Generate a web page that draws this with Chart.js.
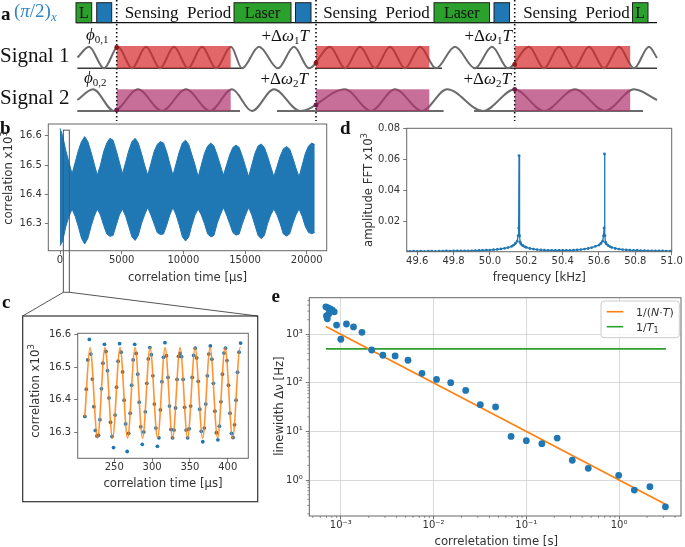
<!DOCTYPE html>
<html>
<head>
<meta charset="utf-8">
<script src="https://cdn.jsdelivr.net/npm/chart.js@4.4.1/dist/chart.umd.min.js"></script>
<style>
  html, body { margin: 0; padding: 0; background: #fff; }
  #page { position: relative; width: 685px; height: 547px; overflow: hidden; background: #fff; }
  #page canvas { position: absolute; left: 0; top: 0; }
</style>
</head>
<body>
<div id="page">
  <canvas id="chartA" width="685" height="547"></canvas>
  <canvas id="chartB" width="685" height="547"></canvas>
  <canvas id="chartC" width="685" height="547"></canvas>
  <canvas id="chartD" width="685" height="547"></canvas>
  <canvas id="chartE" width="685" height="547"></canvas>
</div>
<script>
// ---------- panel b: envelope of the raw correlation trace (x10^3) ----------
const bTime = [0, 211, 466, 722, 977, 1233, 1489, 1744, 2000, 2256, 2511, 2767, 3022, 3278, 3533, 3789,
  4045, 4300, 4556, 4811, 5067, 5323, 5578, 5834, 6089, 6345, 6601, 6856, 7112, 7367, 7623, 7879,
  8134, 8390, 8645, 8901, 9157, 9412, 9668, 9923, 10179, 10435, 10690, 10946, 11201, 11457, 11713, 11968,
  12224, 12479, 12735, 12991, 13246, 13502, 13757, 14013, 14269, 14524, 14780, 15035, 15291, 15547, 15802, 16058,
  16313, 16569, 16825, 17080, 17336, 17591, 17847, 18103, 18358, 18614, 18869, 19125, 19381, 19636, 19892, 20147,
  20403, 20650];
const bUpper = [16.625, 16.60, 16.55, 16.51, 16.47, 16.51, 16.55, 16.58,
  16.597, 16.58, 16.545, 16.505, 16.465, 16.50, 16.545, 16.575,
  16.591, 16.585, 16.55, 16.51, 16.47, 16.51, 16.55, 16.58,
  16.591, 16.575, 16.54, 16.50, 16.465, 16.505, 16.545, 16.57,
  16.58, 16.575, 16.545, 16.505, 16.465, 16.505, 16.545, 16.575,
  16.585, 16.57, 16.535, 16.50, 16.46, 16.50, 16.54, 16.565,
  16.575, 16.565, 16.535, 16.50, 16.465, 16.50, 16.535, 16.56,
  16.568, 16.56, 16.53, 16.495, 16.46, 16.50, 16.54, 16.565,
  16.572, 16.56, 16.53, 16.495, 16.46, 16.495, 16.53, 16.555,
  16.563, 16.555, 16.525, 16.49, 16.46, 16.50, 16.54, 16.565,
  16.575, 16.57];
const bLower = [16.225, 16.24, 16.29, 16.325, 16.35, 16.325, 16.29, 16.25,
  16.231, 16.25, 16.29, 16.325, 16.35, 16.33, 16.295, 16.265,
  16.257, 16.26, 16.295, 16.33, 16.35, 16.325, 16.29, 16.255,
  16.243, 16.26, 16.30, 16.33, 16.355, 16.33, 16.30, 16.27,
  16.263, 16.265, 16.295, 16.33, 16.355, 16.33, 16.295, 16.255,
  16.241, 16.255, 16.295, 16.33, 16.35, 16.33, 16.30, 16.265,
  16.255, 16.26, 16.30, 16.33, 16.355, 16.33, 16.30, 16.27,
  16.261, 16.265, 16.30, 16.33, 16.355, 16.33, 16.295, 16.26,
  16.249, 16.26, 16.30, 16.33, 16.35, 16.33, 16.30, 16.265,
  16.258, 16.265, 16.30, 16.33, 16.35, 16.325, 16.29, 16.27,
  16.266, 16.27];
const bTicksX = [0, 5000, 10000, 15000, 20000];
const bTicksY = [16.3, 16.4, 16.5, 16.6];
const bZoomFrom = 270, bZoomTo = 755;   // inset marker, in us

// ---------- panel c: zoom on the first samples ----------
const cTime = [211, 213, 215, 217, 219, 221, 223, 225, 227, 229, 231, 233, 235, 237, 239, 241, 243, 245, 247, 249,
  251, 253, 255, 257, 259, 261, 263, 265, 267, 269, 271, 273, 275, 277, 279, 281, 283, 285, 287, 289,
  291, 293, 295, 297, 299, 301, 303, 305, 307, 309, 311, 313, 315, 317, 319, 321, 323, 325, 327, 329,
  331, 333, 335, 337, 339, 341, 343, 345, 347, 349, 351, 353, 355, 357, 359, 361, 363, 365, 367, 369,
  371, 373, 375, 377, 379, 381, 383, 385, 387, 389, 391, 393, 395, 397, 399, 401, 403, 405, 407, 409,
  411, 413, 415, 417];
const cValue = [16.348, 16.432, 16.522, 16.585, 16.540, 16.463, 16.378, 16.305, 16.288, 16.290,
  16.338, 16.433, 16.512, 16.570, 16.548, 16.489, 16.405, 16.330, 16.286, 16.252,
  16.352, 16.438, 16.518, 16.572, 16.546, 16.485, 16.398, 16.325, 16.240, 16.296,
  16.358, 16.444, 16.522, 16.570, 16.542, 16.478, 16.392, 16.316, 16.262, 16.300,
  16.362, 16.450, 16.525, 16.560, 16.538, 16.473, 16.386, 16.312, 16.256, 16.282,
  16.368, 16.455, 16.530, 16.575, 16.535, 16.468, 16.380, 16.308, 16.282, 16.306,
  16.374, 16.462, 16.533, 16.542, 16.532, 16.462, 16.376, 16.306, 16.282, 16.310,
  16.380, 16.468, 16.536, 16.558, 16.528, 16.456, 16.370, 16.302, 16.270, 16.312,
  16.386, 16.473, 16.540, 16.565, 16.524, 16.450, 16.364, 16.298, 16.276, 16.318,
  16.393, 16.478, 16.543, 16.558, 16.520, 16.444, 16.358, 16.296, 16.283, 16.322,
  16.398, 16.484, 16.546, 16.574];
// fitted curve, given by its turning points
const fitTime = [211, 217.9, 227.83, 237.75, 247.68, 257.6, 267.53, 277.45, 287.38, 297.3, 307.23, 317.15,
  327.08, 337.0, 346.93, 356.85, 366.78, 376.7, 386.63, 396.55, 406.48, 416.4, 417];
const fitValue = [16.347, 16.56, 16.281, 16.56, 16.281, 16.56, 16.281, 16.56, 16.281, 16.56, 16.281, 16.56,
  16.281, 16.56, 16.281, 16.56, 16.281, 16.56, 16.281, 16.56, 16.281, 16.56, 16.559];
const cTicksX = [250, 300, 350, 400];
const cTicksY = [16.3, 16.4, 16.5, 16.6];

// ---------- panel d: FFT amplitude (x10^3) ----------
const fftFreq = [49.54, 49.56, 49.58, 49.60, 49.62, 49.64, 49.66, 49.68, 49.70, 49.72, 49.74, 49.76, 49.78, 49.80,
  49.82, 49.84, 49.86, 49.88, 49.90, 49.92, 49.94, 49.96, 49.98, 50.00, 50.02, 50.04, 50.06, 50.08, 50.10,
  50.12, 50.13, 50.14, 50.15, 50.155, 50.158, 50.16, 50.163, 50.166, 50.17, 50.18, 50.19, 50.20,
  50.22, 50.24, 50.26, 50.28, 50.30, 50.32, 50.34, 50.36, 50.38, 50.40, 50.42, 50.44, 50.46, 50.48,
  50.50, 50.52, 50.54, 50.56, 50.58, 50.60, 50.61, 50.62, 50.625, 50.628, 50.63, 50.633, 50.636,
  50.64, 50.65, 50.66, 50.67, 50.69, 50.71, 50.73, 50.75, 50.77, 50.79, 50.81, 50.83, 50.85, 50.87,
  50.89, 50.91, 50.93, 50.95, 50.97, 50.99, 51.00];
const fftAmp = [0.0011, 0.0010, 0.0011, 0.0010, 0.0011, 0.0010, 0.0011, 0.0011, 0.0010, 0.0011, 0.0011, 0.0012, 0.0011, 0.0012,
  0.0012, 0.0012, 0.0013, 0.0013, 0.0013, 0.0014, 0.0015, 0.0016, 0.0017, 0.0018, 0.0020, 0.0022, 0.0025, 0.0029, 0.0034,
  0.0042, 0.0050, 0.0060, 0.0075, 0.0110, 0.0160, 0.0625, 0.0110, 0.0068, 0.0058, 0.0047, 0.0040, 0.0035,
  0.0028, 0.0024, 0.0021, 0.0019, 0.0017, 0.0016, 0.0016, 0.0015, 0.0015, 0.0015, 0.0016, 0.0016, 0.0017, 0.0019,
  0.0021, 0.0024, 0.0028, 0.0034, 0.0042, 0.0050, 0.0060, 0.0075, 0.0110, 0.0160, 0.0635, 0.0110, 0.0068,
  0.0058, 0.0047, 0.0040, 0.0035, 0.0028, 0.0024, 0.0021, 0.0019, 0.0017, 0.0016, 0.0015, 0.0014, 0.0014, 0.0013,
  0.0013, 0.0012, 0.0012, 0.0012, 0.0011, 0.0011, 0.0011];
const dTicksX = [49.6, 49.8, 50.0, 50.2, 50.4, 50.6, 50.8, 51.0];
const dTicksY = [0.02, 0.04, 0.06, 0.08];

// ---------- panel e: linewidth vs correlation time ----------
const eTime = [6.9e-4, 7.3e-4, 7.7e-4, 8.1e-4, 8.5e-4, 7.4e-4, 7.0e-4, 7.15e-4, 9.0e-4, 1.0e-3, 1.15e-3, 1.37e-3,
  1.69e-3, 2.15e-3, 2.84e-3, 3.85e-3, 5.3e-3, 7.5e-3, 1.076e-2, 1.53e-2, 2.22e-2, 3.19e-2, 4.66e-2,
  6.85e-2, 0.1, 0.147, 0.215, 0.313, 0.465, 0.99, 1.46, 2.15, 3.16];
const eWidth = [3680, 3500, 3330, 3150, 2900, 2620, 2380, 2080, 1550, 790, 1630, 1420,
  1100, 475, 370, 358, 292, 157, 118, 101, 70, 35.6, 31.9,
  7.9, 6.46, 5.6, 7.3, 2.55, 1.74, 1.25, 0.62, 0.73, 0.28];
const ntTime = [6.9e-4, 3.2], ntWidth = [1450, 0.3125];   // 1/(N T)
const t1Time = [6.9e-4, 3.2], t1Width = [500, 500];        // 1/T1
const eTicksX = [1e-3, 1e-2, 1e-1, 1];
const eTicksY = [1, 10, 100, 1000];

// ---------- panel a: schematic (page pixels) ----------
const wave1X = [77.5, 89, 104, 118, 132, 146, 160, 174, 188, 202, 216, 231, 242, 259, 278, 294, 309, 330, 345,
  360, 375, 390, 405, 420, 436, 455, 475, 492, 508, 529, 544, 559, 574, 589, 604, 619, 634, 649, 657];
const wave1Y = [57.5, 46.7, 68.3, 46.7, 68.3, 46.7, 68.3, 46.7, 68.3, 46.7, 68.3, 46.7, 68.3, 46.7, 68.3, 46.7, 68.3,
  46.7, 68.3, 46.7, 68.3, 46.7, 68.3, 46.7, 68.3, 46.7, 68.3, 46.7, 68.3, 46.7, 68.3, 46.7, 68.3, 46.7, 68.3,
  46.7, 68.3, 46.7, 58];
const wave2X = [77.3, 93, 114, 138, 162, 186, 210, 232, 252, 274, 300, 345, 371, 395, 422, 447, 483, 514.7,
  544, 575, 605, 634, 657];
const wave2Y = [100, 89.3, 111, 89.3, 111, 89.3, 111, 89.3, 111, 89.3, 111, 89.3, 111, 89.3, 111, 89.3, 111, 89.3,
  111, 89.3, 111, 89.3, 100];
const rail1 = [[77.3, 243], [315, 442], [474, 657]];
const rail2 = [[77.3, 240], [277, 443.6], [474, 643]];
const windowFrom = [116.7, 316, 514.7];
const windowTo = [230.7, 429.3, 630.2];
const pulses = [
  { from: 76, to: 91.7, color: '#2ca02c', text: 'L' },
  { from: 96.7, to: 111.7, color: '#1f77b4', text: '' },
  { from: 234, to: 291, color: '#2ca02c', text: 'Laser' },
  { from: 295.5, to: 311, color: '#1f77b4', text: '' },
  { from: 434, to: 489.5, color: '#2ca02c', text: 'Laser' },
  { from: 494, to: 509.5, color: '#1f77b4', text: '' },
  { from: 632.5, to: 648, color: '#2ca02c', text: 'L' }
];
const sensingCenters = [178, 376.5, 576.5];
const dot1Y = [47.5, 63, 64.5];
const dot2Y = [110, 105, 89.5];

const W = 685, H = 547;
const BLUE = '#1f77b4', ORANGE = '#ff7f0e', GREEN = '#2ca02c';
const INK = '#333';
const SANS = '"DejaVu Sans", sans-serif';
const SERIF = '"Liberation Serif", "DejaVu Serif", serif';
const TICK_FONT = { family: 'DejaVu Sans', size: 10, lineHeight: 1 };
const TITLE = '11.7px ' + SANS;
const SUP = '8.5px ' + SANS;

Chart.defaults.animation = false;
Chart.defaults.responsive = false;
Chart.defaults.devicePixelRatio = 1;
Chart.defaults.events = [];
Chart.defaults.plugins.legend.display = false;
Chart.defaults.plugins.tooltip.enabled = false;
Chart.defaults.font.family = 'DejaVu Sans';

function fixedAxis(size) {
    return scale => {
        if (scale.isHorizontal()) scale.height = size; else scale.width = size;
        scale.paddingLeft = scale.paddingRight = scale.paddingTop = scale.paddingBottom = 0;
    };
}

function padFor(box, yw, xh) {
    return { left: box.l - yw, top: box.t, right: W - box.r, bottom: H - box.b - xh };
}

function axis(type, min, max, ticks, fmt, size, pad, extra) {
    return Object.assign({
        type: type, min: min, max: max,
        afterBuildTicks: s => { s.ticks = ticks.map(v => ({ value: v })); },
        afterFit: fixedAxis(size),
        grid: { drawOnChartArea: false, drawTicks: true, tickLength: 3.5, color: '#555', tickColor: '#555', lineWidth: 0.8 },
        border: { display: false },
        ticks: { font: TICK_FONT, color: INK, padding: pad, maxRotation: 0, autoSkip: false, callback: fmt }
    }, extra || {});
}

function xy(xs, ys) {
    return xs.map((x, i) => ({ x: x, y: ys[i] }));
}

// text made of several runs (italic, sub/superscripts), anchored at (cx, baseline cy)
function drawRuns(ctx, runs, cx, cy, rot, align) {
    ctx.save();
    ctx.translate(cx, cy);
    if (rot) ctx.rotate(rot);
    ctx.textBaseline = 'alphabetic';
    ctx.textAlign = 'left';
    let total = 0;
    runs.forEach(r => { ctx.font = r.f; r.w = ctx.measureText(r.t).width; total += r.w; });
    let x = align === 'left' ? 0 : align === 'right' ? -total : -total / 2;
    const base = rot ? 4 : 0;
    runs.forEach(r => {
        ctx.font = r.f;
        ctx.fillStyle = r.c || INK;
        ctx.fillText(r.t, x, base + (r.dy || 0));
        x += r.w;
    });
    ctx.restore();
}

const framePlugin = {
    id: 'frame',
    afterDatasetsDraw(chart) {
        const { ctx, chartArea: a } = chart;
        ctx.save();
        ctx.strokeStyle = '#666';
        ctx.lineWidth = 1;
        ctx.strokeRect(a.left, a.top, a.right - a.left, a.bottom - a.top);
        ctx.restore();
    }
};

// ================= panel a =================
const schematicPlugin = {
    id: 'schematic',
    afterDatasetsDraw(chart) {
        const { ctx, scales: { x, y } } = chart;
        const px = v => x.getPixelForValue(v), py = v => y.getPixelForValue(v);
        ctx.save();

        // sensing windows
        windowFrom.forEach((x0, i) => {
            const x1 = windowTo[i];
            ctx.fillStyle = 'rgba(214,39,40,0.7)';
            ctx.fillRect(px(x0), py(46), px(x1) - px(x0), py(68.3) - py(46));
            ctx.fillStyle = 'rgba(175,50,110,0.7)';
            ctx.fillRect(px(x0), py(89.3), px(x1) - px(x0), py(111) - py(89.3));
        });

        // pulse sequence
        ctx.strokeStyle = '#111';
        ctx.lineWidth = 1.2;
        ctx.beginPath();
        ctx.moveTo(px(76), py(22.7));
        ctx.lineTo(px(657), py(22.7));
        ctx.stroke();
        pulses.forEach(p => {
            ctx.fillStyle = p.color;
            ctx.fillRect(px(p.from), py(2.7), px(p.to) - px(p.from), py(22.7) - py(2.7));
            ctx.strokeStyle = '#222';
            ctx.lineWidth = 1;
            ctx.strokeRect(px(p.from), py(2.7), px(p.to) - px(p.from), py(22.7) - py(2.7));
            if (p.text) {
                ctx.fillStyle = '#111';
                ctx.font = '16px ' + SERIF;
                ctx.textAlign = 'center';
                ctx.textBaseline = 'alphabetic';
                ctx.fillText(p.text, px((p.from + p.to) / 2), py(18));
            }
        });
        ctx.fillStyle = '#111';
        ctx.font = '17px ' + SERIF;
        ctx.textAlign = 'center';
        sensingCenters.forEach(c => ctx.fillText('Sensing  Period', px(c), py(18)));

        // dotted markers
        ctx.strokeStyle = '#111';
        ctx.lineWidth = 1.6;
        ctx.setLineDash([1.6, 2.4]);
        windowFrom.forEach(x0 => {
            ctx.beginPath();
            ctx.moveTo(px(x0), py(0));
            ctx.lineTo(px(x0), py(121));
            ctx.stroke();
        });
        ctx.setLineDash([]);
        windowFrom.forEach((x0, i) => {
            ctx.fillStyle = '#8b1a1a';
            ctx.beginPath(); ctx.arc(px(x0), py(dot1Y[i]), 2.4, 0, Math.PI * 2); ctx.fill();
            ctx.fillStyle = '#6e1d4a';
            ctx.beginPath(); ctx.arc(px(x0), py(dot2Y[i]), 2.4, 0, Math.PI * 2); ctx.fill();
        });

        // labels
        const S17 = '17px ' + SERIF, I17 = 'italic 17px ' + SERIF, S11 = '11px ' + SERIF;
        drawRuns(ctx, [{ t: 'Signal 1', f: '21px ' + SERIF, c: '#111' }], 0, 62, 0, 'left');
        drawRuns(ctx, [{ t: 'Signal 2', f: '21px ' + SERIF, c: '#111' }], 0, 104, 0, 'left');
        drawRuns(ctx, [{ t: '\u03D5', f: I17, c: '#111' }, { t: '0,1', f: S11, c: '#111', dy: 3 }], 86, 40, 0, 'left');
        drawRuns(ctx, [{ t: '\u03D5', f: I17, c: '#111' }, { t: '0,2', f: S11, c: '#111', dy: 3 }], 84, 83, 0, 'left');
        [309, 512].forEach(xr => {
            drawRuns(ctx, [{ t: '+\u0394', f: S17, c: '#111' }, { t: '\u03C9', f: I17, c: '#111' },
                { t: '1', f: S11, c: '#111', dy: 3 }, { t: 'T', f: I17, c: '#111' }], xr, 41, 0, 'right');
            drawRuns(ctx, [{ t: '+\u0394', f: S17, c: '#111' }, { t: '\u03C9', f: I17, c: '#111' },
                { t: '2', f: S11, c: '#111', dy: 3 }, { t: 'T', f: I17, c: '#111' }], xr - 1, 84, 0, 'right');
        });
        const PB = '#2f86c8';
        drawRuns(ctx, [{ t: '(', f: '19px ' + SERIF, c: PB }, { t: '\u03C0', f: 'italic 19px ' + SERIF, c: PB },
            { t: '/2)', f: '19px ' + SERIF, c: PB }, { t: 'x', f: 'italic 13px ' + SERIF, c: PB, dy: 4 }], 14, 17, 0, 'left');

        // panel letters
        ctx.fillStyle = '#111';
        ctx.font = 'bold 19px ' + SERIF;
        ctx.textAlign = 'left';
        ctx.textBaseline = 'alphabetic';
        ctx.fillText('a', 1, 20);
        ctx.fillText('b', 0, 133.5);
        ctx.fillText('c', 2, 307.5);
        ctx.fillText('d', 340, 133.5);
        ctx.fillText('e', 271.5, 302);
        ctx.restore();
    }
};

function waveSet(xs, ys) {
    return { data: xy(xs, ys), borderColor: '#6b6b6b', borderWidth: 2, pointRadius: 0, cubicInterpolationMode: 'monotone', fill: false };
}
function railSets(rails, level) {
    return rails.map(r => ({ data: [{ x: r[0], y: level }, { x: r[1], y: level }], borderColor: '#3a3a3a', borderWidth: 1.4, pointRadius: 0, fill: false }));
}

new Chart(document.getElementById('chartA'), {
    type: 'line',
    data: { datasets: [waveSet(wave1X, wave1Y), waveSet(wave2X, wave2Y)].concat(railSets(rail1, 68.3), railSets(rail2, 111)) },
    options: {
        layout: { padding: 0 },
        scales: {
            x: { type: 'linear', min: 0, max: W, display: false },
            y: { type: 'linear', min: 0, max: H, reverse: true, display: false }
        }
    },
    plugins: [schematicPlugin]
});

// ================= panel b =================
const boxB = { l: 48.3, t: 124, r: 326.7, b: 250.7 };
new Chart(document.getElementById('chartB'), {
    type: 'line',
    data: {
        datasets: [
            { data: xy(bTime, bUpper), borderColor: BLUE, backgroundColor: BLUE, borderWidth: 1, pointRadius: 0, fill: '+1', tension: 0 },
            { data: xy(bTime, bLower), borderColor: BLUE, borderWidth: 1, pointRadius: 0, fill: false, tension: 0 }
        ]
    },
    options: {
        layout: { padding: padFor(boxB, 40, 20) },
        scales: {
            x: axis('linear', -950, 21620, bTicksX, v => String(v), 20, 1),
            y: axis('linear', 16.208, 16.640, bTicksY, v => v.toFixed(1), 40, 3)
        }
    },
    plugins: [framePlugin, {
        id: 'bNotes',
        afterDraw(chart) {
            const { ctx, scales: { x, y } } = chart;
            const x0 = x.getPixelForValue(bZoomFrom), x1 = x.getPixelForValue(bZoomTo);
            const top = y.getPixelForValue(16.619), bottom = 292.3;
            ctx.save();
            ctx.strokeStyle = '#555';
            ctx.lineWidth = 1;
            ctx.strokeRect(x0, top, x1 - x0, bottom - top);
            ctx.beginPath();
            ctx.moveTo(x0, bottom); ctx.lineTo(22.7, 316);
            ctx.moveTo(x1, bottom); ctx.lineTo(257.7, 316);
            ctx.stroke();
            drawRuns(ctx, [{ t: 'correlation time [\u03BCs]', f: TITLE }], 187.5, 280.7);
            drawRuns(ctx, [{ t: 'correlation x10', f: TITLE }, { t: '3', f: SUP, dy: -5 }], 7.5, 178, -Math.PI / 2);
            ctx.restore();
        }
    }]
});

// ================= panel c =================
const boxC = { l: 77.7, t: 333.3, r: 248.3, b: 458.3 };
new Chart(document.getElementById('chartC'), {
    type: 'line',
    data: {
        datasets: [
            { data: xy(fitTime, fitValue), borderColor: 'rgba(255,127,14,0.85)', borderWidth: 1.6, pointRadius: 0, cubicInterpolationMode: 'monotone', fill: false, order: 0 },
            { data: xy(cTime, cValue), showLine: false, pointRadius: 1.9, pointBorderWidth: 0, pointBackgroundColor: BLUE, borderColor: BLUE, order: 1 }
        ]
    },
    options: {
        layout: { padding: padFor(boxC, 40, 20) },
        scales: {
            x: axis('linear', 201.6, 427.2, cTicksX, v => String(v), 20, 1),
            y: axis('linear', 16.219, 16.604, cTicksY, v => v.toFixed(1), 40, 3)
        }
    },
    plugins: [framePlugin, {
        id: 'cNotes',
        afterDraw(chart) {
            const { ctx } = chart;
            ctx.save();
            ctx.strokeStyle = '#333';
            ctx.lineWidth = 1.2;
            ctx.strokeRect(22.7, 316, 235, 185.7);
            drawRuns(ctx, [{ t: 'correlation time [\u03BCs]', f: TITLE }], 163, 487.3);
            drawRuns(ctx, [{ t: 'correlation x10', f: TITLE }, { t: '3', f: SUP, dy: -5 }], 35, 391, -Math.PI / 2);
            ctx.restore();
        }
    }]
});

// ================= panel d =================
const boxD = { l: 406.7, t: 128.3, r: 671.7, b: 251.7 };
new Chart(document.getElementById('chartD'), {
    type: 'line',
    data: {
        datasets: [
            { data: xy(fftFreq, fftAmp), borderColor: BLUE, borderWidth: 1.3, pointRadius: 1.4, pointBorderWidth: 0, pointBackgroundColor: BLUE, tension: 0, fill: false }
        ]
    },
    options: {
        layout: { padding: padFor(boxD, 40, 20) },
        scales: {
            x: axis('linear', 49.542, 51.0, dTicksX, v => v.toFixed(1), 20, 1),
            y: axis('linear', 0.00073, 0.08, dTicksY, v => v.toFixed(2), 40, 3)
        }
    },
    plugins: [framePlugin, {
        id: 'dNotes',
        afterDraw(chart) {
            const { ctx } = chart;
            drawRuns(ctx, [{ t: 'frequency [kHz]', f: TITLE }], 539.2, 281.3);
            drawRuns(ctx, [{ t: 'amplitude FFT x10', f: TITLE }, { t: '3', f: SUP, dy: -5 }], 368.3, 190, -Math.PI / 2);
        }
    }]
});

// ================= panel e =================
const boxE = { l: 309.3, t: 297.7, r: 683.3, b: 516 };
const SUPS = { '-': '\u207B', '0': '\u2070', '1': '\u00B9', '2': '\u00B2', '3': '\u00B3' };
const powLabel = v => '10' + String(Math.round(Math.log10(v))).split('').map(c => SUPS[c]).join('');
function minorTicks(min, max) {
    const out = [];
    for (let e = Math.floor(Math.log10(min)); e <= Math.ceil(Math.log10(max)); e++) {
        for (let m = 2; m <= 9; m++) {
            const v = m * Math.pow(10, e);
            if (v > min && v < max) out.push(v);
        }
    }
    return out;
}
const eX = [4.573e-4, 4.651], eY = [0.1815, 5670];
const eGrid = { drawOnChartArea: true, drawTicks: true, tickLength: 3.5, color: '#d0d0d0', tickColor: '#555', lineWidth: 0.8 };

new Chart(document.getElementById('chartE'), {
    type: 'line',
    data: {
        datasets: [
            { data: xy(ntTime, ntWidth), borderColor: ORANGE, borderWidth: 1.6, pointRadius: 0, fill: false, order: 1 },
            { data: xy(t1Time, t1Width), borderColor: GREEN, borderWidth: 1.6, pointRadius: 0, fill: false, order: 1 },
            { data: xy(eTime, eWidth), showLine: false, pointRadius: 3.4, pointBorderWidth: 0, pointBackgroundColor: BLUE, borderColor: BLUE, order: 0 }
        ]
    },
    options: {
        layout: { padding: padFor(boxE, 28, 20) },
        scales: {
            x: axis('logarithmic', eX[0], eX[1], eTicksX, powLabel, 20, 1, { grid: eGrid }),
            y: axis('logarithmic', eY[0], eY[1], eTicksY, powLabel, 28, 3, { grid: eGrid })
        }
    },
    plugins: [framePlugin, {
        id: 'eNotes',
        afterDraw(chart) {
            const { ctx, chartArea: a, scales: { x, y } } = chart;
            ctx.save();
            ctx.strokeStyle = '#555';
            ctx.lineWidth = 0.6;
            ctx.beginPath();
            minorTicks(eX[0], eX[1]).forEach(v => { const p = x.getPixelForValue(v); ctx.moveTo(p, a.bottom); ctx.lineTo(p, a.bottom + 2); });
            minorTicks(eY[0], eY[1]).forEach(v => { const p = y.getPixelForValue(v); ctx.moveTo(a.left - 2, p); ctx.lineTo(a.left, p); });
            ctx.stroke();

            // legend
            ctx.fillStyle = 'rgba(255,255,255,0.85)';
            ctx.strokeStyle = '#cccccc';
            ctx.lineWidth = 1;
            ctx.beginPath();
            ctx.roundRect(601, 301, 78.3, 36.7, 3);
            ctx.fill();
            ctx.stroke();
            ctx.lineWidth = 1.6;
            ctx.strokeStyle = ORANGE;
            ctx.beginPath(); ctx.moveTo(606.7, 311.7); ctx.lineTo(623.3, 311.7); ctx.stroke();
            ctx.strokeStyle = GREEN;
            ctx.beginPath(); ctx.moveTo(606.7, 326.7); ctx.lineTo(623.3, 326.7); ctx.stroke();
            const F = '11px ' + SANS, FI = 'italic 11px ' + SANS;
            drawRuns(ctx, [{ t: '1/(', f: F }, { t: 'N', f: FI }, { t: '\u00B7', f: F }, { t: 'T', f: FI }, { t: ')', f: F }], 636, 315.7, 0, 'left');
            drawRuns(ctx, [{ t: '1/', f: F }, { t: 'T', f: FI }, { t: '1', f: '8px ' + SANS, dy: 2.5 }], 636, 330.7, 0, 'left');

            drawRuns(ctx, [{ t: 'correletation time [s]', f: TITLE }], 496.3, 545);
            drawRuns(ctx, [{ t: 'linewidth \u0394\u03BD [Hz]', f: TITLE }], 279.3, 406, -Math.PI / 2);
            ctx.restore();
        }
    }]
});
</script>
</body>
</html>
